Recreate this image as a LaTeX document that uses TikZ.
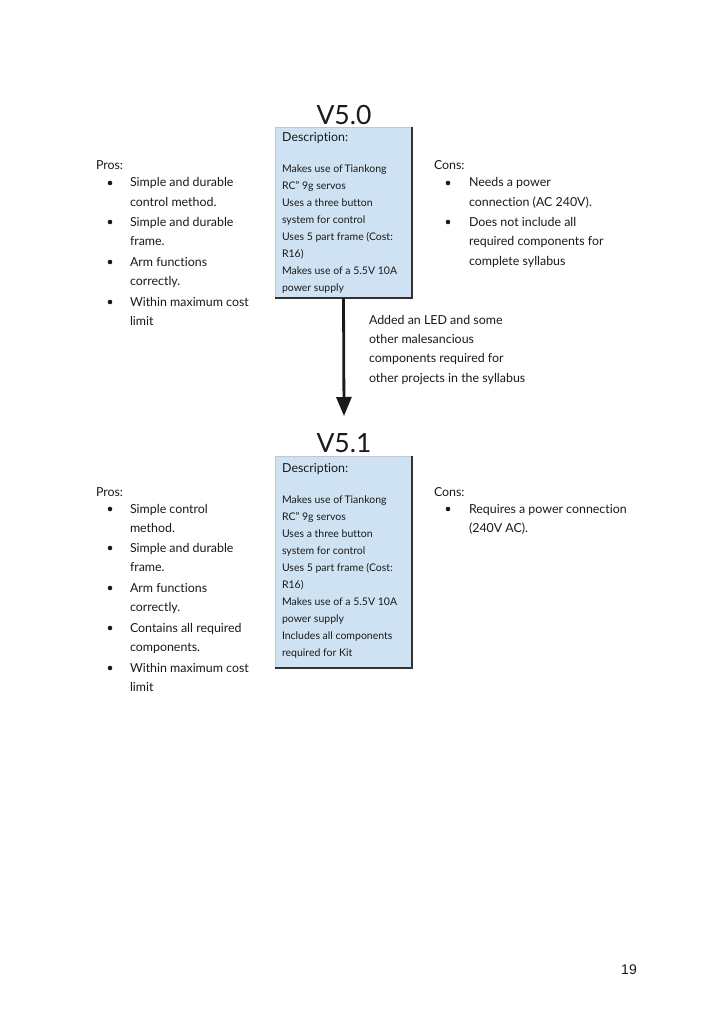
\documentclass[tikz,border=0pt]{standalone}
\usepackage{fontspec}
\setmainfont{Lato}[Ligatures={TeX,NoCommon}]
\newfontfamily\numfont{Liberation Sans}
\usetikzlibrary{arrows.meta}
\definecolor{boxblue}{HTML}{CFE2F3}
\definecolor{ink}{HTML}{1A1A1A}
\definecolor{edge}{HTML}{2E3338}
\tikzset{
  txt/.style={anchor=base west, inner sep=0pt, outer sep=0pt, align=left, text=ink, font=\fontsize{12.4}{19.7}\selectfont},
  small/.style={anchor=base west, inner sep=0pt, outer sep=0pt, align=left, text=ink, font=\fontsize{10.5}{17}\selectfont},
  head/.style={anchor=base west, inner sep=0pt, text=ink, font=\fontsize{12.4}{14}\selectfont},
  title/.style={anchor=base, inner sep=0pt, text=ink, font=\fontsize{26.5}{30}\selectfont},
  descbox/.style={anchor=north west, fill=boxblue, inner sep=0pt, outer sep=0pt},
  bul/.style={circle, fill=ink, inner sep=0pt, minimum size=4.6pt},
  flow/.style={draw=ink, line width=2.8pt, -{Triangle[length=19pt,width=15pt]}}
}
% multi-line nodes: the base anchor is the baseline of the last line,
% so positions below are given as first baseline + (lines-1)*skip
\begin{document}
\begin{tikzpicture}[x=1pt,y=-1pt]
\useasboundingbox[fill=white] (0,0) rectangle (725,1024);

% ---------- V5.0 ----------
\node[title] (t50) at (344,125) {V5.0};
\node[descbox, minimum width=137pt, minimum height=171pt] (box1) at (275,127) {};
\draw[gray!45, line width=0.5pt] (box1.south west) -- (box1.north west) -- (box1.north east);
\draw[edge, line width=1.6pt] (box1.north east) -- (box1.south east) -- (box1.south west);
\node[head] (d1) at (282,142) {Description:};
\node[small] (b1) at (282,{172+7*17}) {Makes use of\,Tiankong\\RC" 9g servos\\Uses a three button\\system for control\\Uses 5 part frame (Cost:\\R16)\\Makes use of a 5.5V 10A\\power supply};

\node[txt] (pros1) at (96,170) {Pros:};
\node[bul] (pb11) at (110,183) {};
\node[bul] (pb12) at (110,222) {};
\node[bul] (pb13) at (110,262) {};
\node[bul] (pb14) at (110,302) {};
\node[txt] (pt11) at (130,{187+19.7}) {Simple and durable\\control method.};
\node[txt] (pt12) at (130,{226+19.7}) {Simple and durable\\frame.};
\node[txt] (pt13) at (130,{266+19.7}) {Arm functions\\correctly.};
\node[txt] (pt14) at (130,{306+19.7}) {Within maximum cost\\limit};

\node[txt] (cons1) at (434,170) {Cons:};
\node[bul] (cb11) at (448,183) {};
\node[bul] (cb12) at (448,222) {};
\node[txt] (ct11) at (469,{187+19.7}) {Needs a power\\connection (AC 240V).};
\node[txt] (ct12) at (469,{226+2*19.7}) {Does not include all\\required components for\\complete syllabus};

% ---------- arrow ----------
\coordinate (arrowend) at (344,416);
\draw[flow] (box1.south) -- (arrowend);
\node[txt, font=\fontsize{12.4}{19.4}\selectfont] (lab) at (369,{324+3*19.4}) {Added an LED and some\\other malesancious\\components required for\\other projects in the syllabus};

% ---------- V5.1 ----------
\node[title] (t51) at (344,452) {V5.1};
\node[descbox, minimum width=137pt, minimum height=212pt] (box2) at (275,456) {};
\draw[gray!45, line width=0.5pt] (box2.south west) -- (box2.north west) -- (box2.north east);
\draw[edge, line width=1.6pt] (box2.north east) -- (box2.south east) -- (box2.south west);
\node[head] (d2) at (282,472) {Description:};
\node[small] (b2) at (282,{503+9*17}) {Makes use of\,Tiankong\\RC" 9g servos\\Uses a three button\\system for control\\Uses 5 part frame (Cost:\\R16)\\Makes use of a 5.5V 10A\\power supply\\Includes all components\\required for Kit};

\node[txt] (pros2) at (96,496) {Pros:};
\node[bul] (pb21) at (110,509) {};
\node[bul] (pb22) at (110,548) {};
\node[bul] (pb23) at (110,588) {};
\node[bul] (pb24) at (110,628) {};
\node[bul] (pb25) at (110,668) {};
\node[txt] (pt21) at (130,{513+19.7}) {Simple control\\method.};
\node[txt] (pt22) at (130,{552+19.7}) {Simple and durable\\frame.};
\node[txt] (pt23) at (130,{592+19.7}) {Arm functions\\correctly.};
\node[txt] (pt24) at (130,{632+19.7}) {Contains all required\\components.};
\node[txt] (pt25) at (130,{672+19.7}) {Within maximum cost\\limit};

\node[txt] (cons2) at (434,496) {Cons:};
\node[bul] (cb21) at (448,509) {};
\node[txt] (ct21) at (469,{513+19.7}) {Requires a power connection\\(240V AC).};

% ---------- page number ----------
\node[anchor=base east, inner sep=0pt, text=ink, font=\numfont\fontsize{14}{16}\selectfont] (pg) at (637,974) {19};
\end{tikzpicture}
\end{document}
